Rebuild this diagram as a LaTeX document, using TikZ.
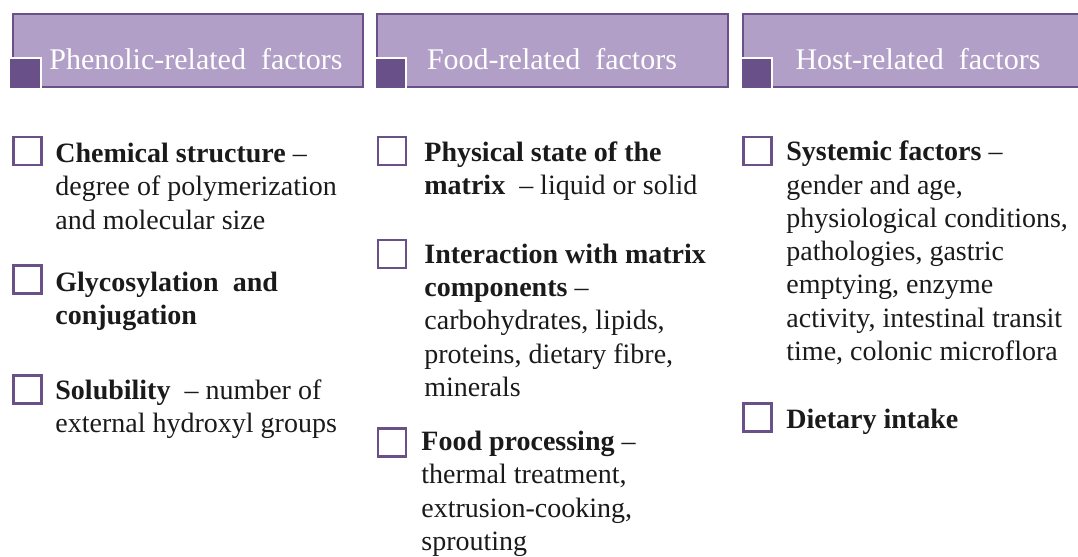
\documentclass[tikz,border=0pt]{standalone}
\usepackage{fontspec}
\setmainfont{Liberation Serif}
\definecolor{hdrfill}{HTML}{B19FC7}
\definecolor{hdrline}{HTML}{6A5089}
\definecolor{inktext}{HTML}{1A1A1A}
\begin{document}
\begin{tikzpicture}[x=0.5pt, y=-0.5pt]
\useasboundingbox (0,0) rectangle (1078,557);
\clip (0,0) rectangle (1078,557);

\tikzset{hdrbox/.style={draw=hdrline, fill=hdrfill, line width=1.4pt}}
\tikzset{corner/.style={draw=white, fill=hdrline, line width=1.1pt}}
\tikzset{hdrtext/.style={text=white, inner sep=0, anchor=base, font=\fontsize{15}{16}\selectfont}}
\tikzset{chkbox/.style={draw=hdrline, line width=1.1pt, minimum size=14pt, inner sep=0}}
% base of a multi-line node is its last line
\tikzset{itemtext/.style={text=inktext, inner sep=0, anchor=base west, align=left, font=\fontsize{14}{16.65}\selectfont}}

% headers
\draw[hdrbox] (13,14) rectangle (363,87);
\draw[hdrbox] (377,14) rectangle (728,87);
\draw[hdrbox] (743,14) rectangle (1093,87);
\draw[corner] (9,58) rectangle (41,89);
\draw[corner] (375,58) rectangle (406,89);
\draw[corner] (741,58) rectangle (772,89);
\node[hdrtext] (phenolic) at (196,69) {Phenolic-related\ \ factors};
\node[hdrtext] (food) at (552,69) {Food-related\ \ factors};
\node[hdrtext] (host) at (918,69) {Host-related\ \ factors};

% phenolic-related
\node[chkbox] (cb1) at (27.5,151) {};
\node[chkbox] (cb2) at (27.5,279.5) {};
\node[chkbox] (cb3) at (27.5,389.5) {};
\node[itemtext] (chem) at (55,229) {\textbf{Chemical structure} --\\degree of polymerization\\and molecular size};
\node[itemtext] (glyc) at (55,324.5) {\textbf{Glycosylation\ \ and}\\\textbf{conjugation}};
\node[itemtext] (solub) at (55,432.5) {\textbf{Solubility} \ -- number of\\external hydroxyl groups};

% food-related
\node[chkbox] (cb4) at (392,151) {};
\node[chkbox] (cb5) at (392,254) {};
\node[chkbox] (cb6) at (392,442.5) {};
\node[itemtext] (phys) at (424,194.5) {\textbf{Physical state of the}\\\textbf{matrix} \ -- liquid or solid};
\node[itemtext] (inter) at (424,396.5) {\textbf{Interaction with matrix}\\\textbf{components} --\\carbohydrates, lipids,\\proteins, dietary fibre,\\minerals};
\node[itemtext] (proc) at (421,550.5) {\textbf{Food processing} --\\thermal treatment,\\extrusion-cooking,\\sprouting};

% host-related
\node[chkbox] (cb7) at (757.5,151) {};
\node[chkbox] (cb8) at (757.5,417.5) {};
\node[itemtext] (syst) at (786,360.5) {\textbf{Systemic factors} --\\gender and age,\\physiological conditions,\\pathologies, gastric\\emptying, enzyme\\activity, intestinal transit\\time, colonic microflora};
\node[itemtext] (diet) at (786,428.5) {\textbf{Dietary intake}};
\end{tikzpicture}
\end{document}
